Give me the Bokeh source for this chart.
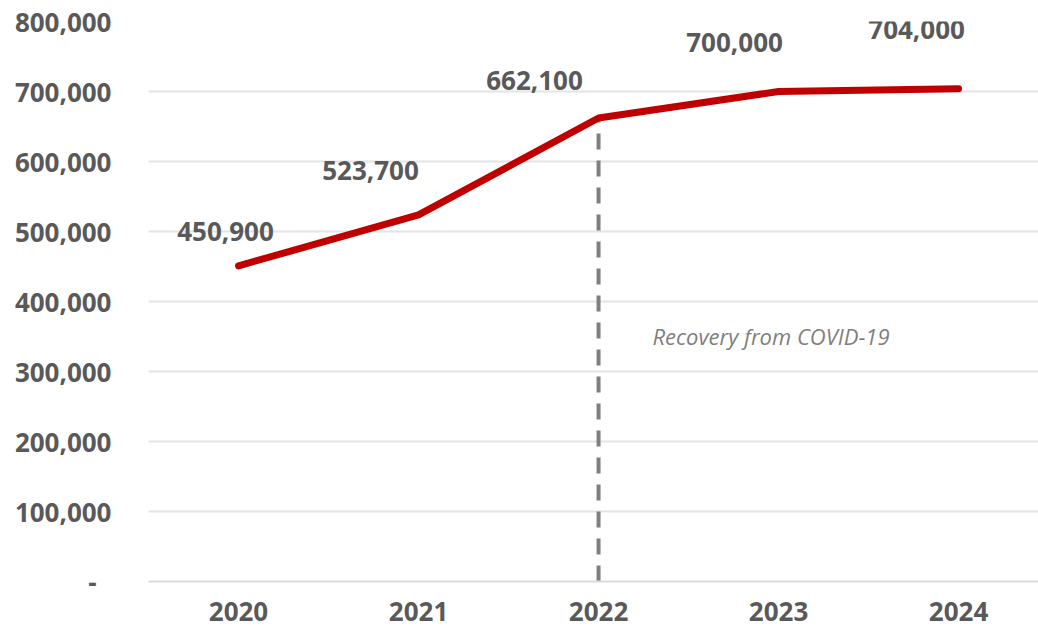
from bokeh.plotting import figure
from bokeh.models import ColumnDataSource, Range1d, FixedTicker, Label, LabelSet
from bokeh.core.properties import value
from bokeh.embed import file_html
from bokeh.resources import INLINE

# ---- data ----
years = ["2020", "2021", "2022", "2023", "2024"]
visitors = [450900, 523700, 662100, 700000, 704000]
y_tick_values = [0, 100000, 200000, 300000, 400000, 500000, 600000, 700000, 800000]
marker_year = "2022"
note_text = "Recovery from COVID-19"

# ---- label placement (screen px, manual like the original) ----
label_dx = [-13, -48, -64, -44, -42]
label_dy = [34, 44, 38, 49, 59]

FONT = "Open Sans"
TXT = "#595959"

xs = list(range(len(years)))
src = ColumnDataSource(dict(
    x=xs, y=visitors,
    label=[f"{v:,}" for v in visitors],
    dx=label_dx, dy=label_dy,
))

p = figure(width=1038, height=632, output_backend="svg", toolbar_location=None,
           x_range=Range1d(-0.5, 4.444), y_range=Range1d(0, 800000),
           min_border_left=148, min_border_right=0, min_border_top=21,
           min_border_bottom=51)
p.outline_line_color = None
p.background_fill_color = "white"
p.border_fill_color = "white"

# grid
p.xgrid.grid_line_color = None
p.ygrid.grid_line_color = "#e4e4e4"
p.ygrid.grid_line_width = 2
p.yaxis.ticker = FixedTicker(ticks=y_tick_values)
p.xaxis.ticker = FixedTicker(ticks=xs)

# y axis
p.yaxis.axis_line_color = None
p.yaxis.major_tick_line_color = None
p.yaxis.minor_tick_line_color = None
p.yaxis.major_label_standoff = 31
p.yaxis.major_label_overrides = {t: (f"{t:,}" if t else "-\u2007") for t in y_tick_values}
p.yaxis.major_label_text_font = FONT
p.yaxis.major_label_text_font_style = "bold"
p.yaxis.major_label_text_font_size = "26px"
p.yaxis.major_label_text_color = TXT

# x axis
p.xaxis.axis_line_color = "#d9d9d9"
p.xaxis.axis_line_width = 2
p.xaxis.major_tick_line_color = None
p.xaxis.minor_tick_line_color = None
p.xaxis.major_label_standoff = 14
p.xaxis.major_label_overrides = {i: y for i, y in zip(xs, years)}
p.xaxis.major_label_text_font = FONT
p.xaxis.major_label_text_font_style = "bold"
p.xaxis.major_label_text_font_size = "26px"
p.xaxis.major_label_text_color = TXT

# dashed marker line at 2022
mi = years.index(marker_year)
p.segment(x0=[xs[mi]], y0=[0], x1=[xs[mi]], y1=[visitors[mi]],
          line_color="#7f7f7f", line_width=4, line_dash="16 11")

# main line
p.line("x", "y", source=src, line_color="#C00000", line_width=7,
       line_cap="round", line_join="round")

# data labels
labels = LabelSet(x="x", y="y", text="label", source=src,
                  x_offset="dx", y_offset="dy",
                  text_align="center", text_baseline="middle",
                  text_font=value(FONT), text_font_style="bold",
                  text_font_size="26px", text_color=TXT)
p.add_layout(labels)

# annotation
note = Label(x=xs[mi] + 0.3, y=351000, text=note_text,
             text_align="left", text_baseline="middle",
             text_font=FONT, text_font_style="italic",
             text_font_size="22px", text_color="#7f7f7f")
p.add_layout(note)

open("out.html", "w").write(file_html(p, INLINE))
